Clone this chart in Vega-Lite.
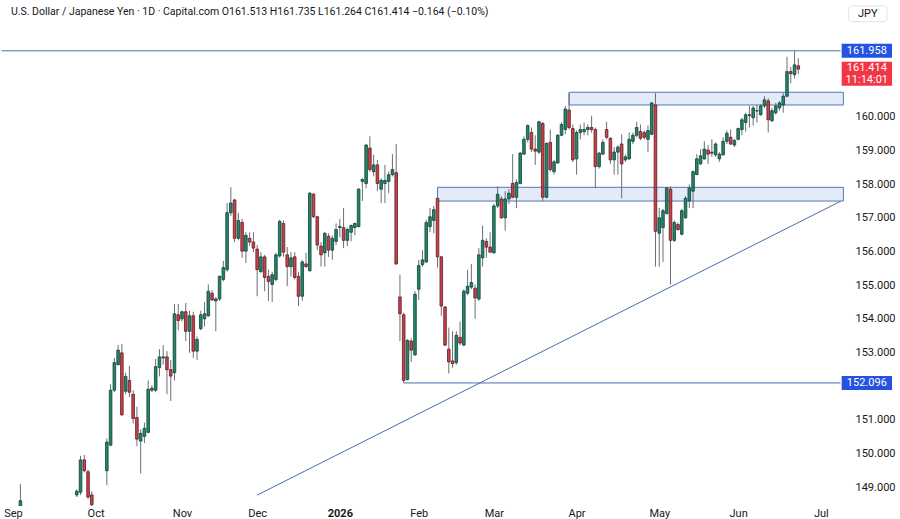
{
  "$schema": "https://vega.github.io/schema/vega-lite/v6.json",
  "width": 900,
  "height": 506,
  "autosize": {"type": "none"},
  "padding": {"left": 0, "top": 0, "right": 0, "bottom": 13},
  "background": "white",
  "config": {
    "view": {"stroke": null},
    "font": "Roboto",
    "axis": {"domain": false, "ticks": false, "grid": false, "labelColor": "#131722", "labelFontSize": 11, "labelFont": "Roboto", "title": null}
  },
  "datasets": {
    "candles": [
      {"t":2,"o":148.4,"h":149.1,"l":147.9,"c":148.6},
      {"t":17,"o":148.77,"h":148.94,"l":148.71,"c":148.88},
      {"t":18,"o":148.85,"h":149.93,"l":148.77,"c":149.81},
      {"t":19,"o":149.81,"h":149.96,"l":149.44,"c":149.49},
      {"t":20,"o":149.46,"h":149.52,"l":148.65,"c":148.71},
      {"t":21,"o":148.77,"h":148.88,"l":148.33,"c":148.48},
      {"t":25,"o":149.49,"h":150.45,"l":149.06,"c":150.34},
      {"t":26,"o":150.25,"h":152.06,"l":150.22,"c":151.88},
      {"t":27,"o":151.88,"h":152.84,"l":151.82,"c":152.70},
      {"t":28,"o":152.64,"h":153.22,"l":152.61,"c":153.07},
      {"t":29,"o":152.99,"h":153.25,"l":151.12,"c":151.15},
      {"t":30,"o":151.85,"h":152.40,"l":151.76,"c":152.29},
      {"t":31,"o":152.17,"h":152.61,"l":151.68,"c":151.82},
      {"t":32,"o":151.76,"h":151.88,"l":150.89,"c":151.04},
      {"t":33,"o":151.07,"h":151.39,"l":150.22,"c":150.43},
      {"t":34,"o":150.37,"h":150.72,"l":149.41,"c":150.60},
      {"t":35,"o":150.51,"h":150.92,"l":150.31,"c":150.75},
      {"t":36,"o":150.63,"h":152.17,"l":150.60,"c":151.91},
      {"t":37,"o":151.88,"h":152.03,"l":151.82,"c":151.94},
      {"t":38,"o":151.88,"h":152.81,"l":151.82,"c":152.58},
      {"t":39,"o":152.55,"h":153.10,"l":152.29,"c":152.87},
      {"t":40,"o":152.84,"h":153.22,"l":152.64,"c":152.87},
      {"t":41,"o":152.87,"h":153.04,"l":151.76,"c":152.49},
      {"t":42,"o":152.49,"h":152.78,"l":151.56,"c":152.30},
      {"t":43,"o":152.40,"h":154.44,"l":152.17,"c":154.15},
      {"t":44,"o":154.12,"h":154.44,"l":153.66,"c":153.95},
      {"t":45,"o":154.00,"h":154.24,"l":153.92,"c":154.21},
      {"t":46,"o":154.21,"h":154.47,"l":153.34,"c":153.63},
      {"t":47,"o":153.63,"h":154.24,"l":152.99,"c":154.09},
      {"t":48,"o":154.09,"h":154.21,"l":152.84,"c":153.04},
      {"t":49,"o":153.04,"h":153.48,"l":152.78,"c":153.39},
      {"t":50,"o":153.71,"h":154.24,"l":153.66,"c":154.12},
      {"t":51,"o":154.00,"h":154.50,"l":153.77,"c":154.15},
      {"t":52,"o":154.09,"h":155.02,"l":154.06,"c":154.82},
      {"t":53,"o":154.76,"h":154.85,"l":154.53,"c":154.56},
      {"t":54,"o":154.53,"h":154.65,"l":153.63,"c":154.59},
      {"t":55,"o":154.59,"h":155.29,"l":154.53,"c":155.26},
      {"t":56,"o":155.17,"h":155.72,"l":155.11,"c":155.52},
      {"t":57,"o":155.46,"h":157.44,"l":155.40,"c":157.15},
      {"t":58,"o":157.15,"h":157.91,"l":157.06,"c":157.44},
      {"t":59,"o":157.53,"h":157.56,"l":156.28,"c":156.39},
      {"t":60,"o":156.39,"h":157.15,"l":156.33,"c":156.92},
      {"t":61,"o":156.86,"h":156.97,"l":155.81,"c":156.01},
      {"t":62,"o":156.01,"h":156.57,"l":155.66,"c":156.48},
      {"t":63,"o":156.39,"h":156.57,"l":156.16,"c":156.28},
      {"t":64,"o":156.28,"h":156.57,"l":155.98,"c":156.10},
      {"t":65,"o":156.07,"h":156.19,"l":154.67,"c":155.46},
      {"t":66,"o":155.40,"h":155.98,"l":155.37,"c":155.84},
      {"t":67,"o":155.84,"h":155.90,"l":154.82,"c":155.23},
      {"t":68,"o":155.26,"h":155.46,"l":154.53,"c":155.11},
      {"t":69,"o":155.02,"h":155.40,"l":154.50,"c":155.31},
      {"t":70,"o":155.17,"h":155.96,"l":155.11,"c":155.90},
      {"t":71,"o":155.87,"h":156.94,"l":155.81,"c":156.89},
      {"t":72,"o":156.83,"h":156.92,"l":155.84,"c":155.98},
      {"t":73,"o":155.90,"h":156.13,"l":154.97,"c":155.55},
      {"t":74,"o":155.55,"h":155.98,"l":155.26,"c":155.81},
      {"t":75,"o":155.84,"h":155.98,"l":155.17,"c":155.23},
      {"t":76,"o":155.26,"h":155.40,"l":154.38,"c":154.67},
      {"t":77,"o":154.67,"h":155.75,"l":154.53,"c":155.69},
      {"t":78,"o":155.63,"h":155.96,"l":155.52,"c":155.55},
      {"t":79,"o":155.43,"h":157.76,"l":155.40,"c":157.73},
      {"t":80,"o":157.70,"h":157.73,"l":157.00,"c":157.03},
      {"t":81,"o":157.03,"h":157.06,"l":156.04,"c":156.19},
      {"t":82,"o":156.16,"h":156.28,"l":155.55,"c":155.90},
      {"t":83,"o":155.96,"h":156.57,"l":155.55,"c":156.54},
      {"t":84,"o":156.45,"h":156.54,"l":155.84,"c":156.04},
      {"t":85,"o":156.04,"h":156.48,"l":155.75,"c":156.39},
      {"t":86,"o":156.30,"h":156.83,"l":156.19,"c":156.65},
      {"t":87,"o":156.71,"h":156.97,"l":156.42,"c":156.74},
      {"t":88,"o":156.71,"h":157.29,"l":156.10,"c":156.33},
      {"t":89,"o":156.33,"h":156.71,"l":156.16,"c":156.65},
      {"t":90,"o":156.57,"h":156.80,"l":156.30,"c":156.77},
      {"t":91,"o":156.71,"h":156.86,"l":156.48,"c":156.83},
      {"t":92,"o":156.74,"h":157.88,"l":156.71,"c":157.85},
      {"t":93,"o":158.08,"h":158.17,"l":157.50,"c":158.14},
      {"t":94,"o":158.02,"h":159.19,"l":157.88,"c":159.16},
      {"t":95,"o":159.07,"h":159.42,"l":158.37,"c":158.43},
      {"t":96,"o":158.37,"h":158.87,"l":158.23,"c":158.57},
      {"t":97,"o":158.57,"h":158.72,"l":157.79,"c":158.02},
      {"t":98,"o":157.85,"h":158.17,"l":157.44,"c":158.11},
      {"t":99,"o":158.02,"h":158.57,"l":157.44,"c":158.11},
      {"t":100,"o":158.08,"h":158.37,"l":157.73,"c":158.28},
      {"t":101,"o":158.28,"h":158.89,"l":158.23,"c":158.43},
      {"t":102,"o":158.34,"h":159.19,"l":155.61,"c":155.63},
      {"t":103,"o":154.65,"h":155.31,"l":153.34,"c":154.15},
      {"t":104,"o":154.12,"h":154.18,"l":152.096,"c":152.17},
      {"t":105,"o":152.20,"h":153.39,"l":152.17,"c":153.36},
      {"t":106,"o":153.34,"h":153.42,"l":152.72,"c":153.07},
      {"t":107,"o":152.93,"h":154.82,"l":152.90,"c":154.73},
      {"t":108,"o":154.88,"h":155.75,"l":154.56,"c":155.58},
      {"t":109,"o":155.61,"h":156.04,"l":155.55,"c":155.75},
      {"t":110,"o":155.69,"h":156.94,"l":155.66,"c":156.86},
      {"t":111,"o":156.74,"h":157.29,"l":156.57,"c":157.03},
      {"t":112,"o":156.92,"h":157.35,"l":156.54,"c":157.24},
      {"t":113,"o":157.58,"h":157.61,"l":155.52,"c":155.84},
      {"t":114,"o":155.84,"h":155.87,"l":154.09,"c":154.38},
      {"t":115,"o":154.35,"h":154.38,"l":153.19,"c":153.22},
      {"t":116,"o":153.10,"h":153.74,"l":152.38,"c":152.72},
      {"t":117,"o":152.75,"h":153.63,"l":152.55,"c":152.67},
      {"t":118,"o":152.70,"h":153.63,"l":152.64,"c":153.51},
      {"t":119,"o":153.45,"h":153.92,"l":153.22,"c":153.28},
      {"t":120,"o":153.22,"h":154.88,"l":153.19,"c":154.82},
      {"t":121,"o":154.76,"h":155.46,"l":154.70,"c":154.97},
      {"t":122,"o":154.94,"h":155.63,"l":154.88,"c":155.08},
      {"t":123,"o":154.91,"h":155.02,"l":154.00,"c":154.62},
      {"t":124,"o":154.59,"h":156.10,"l":154.53,"c":155.90},
      {"t":125,"o":155.81,"h":156.77,"l":155.55,"c":156.33},
      {"t":126,"o":156.30,"h":156.39,"l":155.81,"c":156.13},
      {"t":127,"o":156.13,"h":156.57,"l":155.96,"c":155.98},
      {"t":128,"o":155.96,"h":157.41,"l":155.93,"c":157.35},
      {"t":129,"o":157.35,"h":157.93,"l":157.29,"c":157.70},
      {"t":130,"o":157.56,"h":157.64,"l":156.97,"c":157.00},
      {"t":131,"o":157.00,"h":157.79,"l":156.62,"c":157.56},
      {"t":132,"o":157.56,"h":157.85,"l":157.41,"c":157.73},
      {"t":133,"o":158.02,"h":158.89,"l":157.58,"c":157.61},
      {"t":134,"o":157.61,"h":158.14,"l":157.29,"c":158.05},
      {"t":135,"o":158.02,"h":158.95,"l":157.99,"c":158.92},
      {"t":136,"o":158.89,"h":159.42,"l":158.87,"c":159.33},
      {"t":137,"o":159.33,"h":159.77,"l":159.24,"c":159.74},
      {"t":138,"o":159.53,"h":159.68,"l":158.95,"c":159.04},
      {"t":139,"o":159.04,"h":159.45,"l":158.57,"c":158.98},
      {"t":140,"o":158.95,"h":159.88,"l":158.89,"c":159.85},
      {"t":141,"o":159.80,"h":159.85,"l":157.50,"c":157.61},
      {"t":142,"o":157.61,"h":159.24,"l":157.58,"c":159.21},
      {"t":143,"o":159.24,"h":159.62,"l":158.37,"c":158.43},
      {"t":144,"o":158.37,"h":158.72,"l":158.28,"c":158.66},
      {"t":145,"o":158.63,"h":159.48,"l":158.60,"c":159.45},
      {"t":146,"o":159.45,"h":159.83,"l":159.42,"c":159.77},
      {"t":147,"o":159.62,"h":160.32,"l":159.48,"c":160.23},
      {"t":148,"o":160.20,"h":160.70,"l":159.62,"c":159.68},
      {"t":149,"o":159.65,"h":159.77,"l":158.66,"c":158.72},
      {"t":150,"o":158.75,"h":159.59,"l":158.28,"c":159.53},
      {"t":151,"o":159.53,"h":159.77,"l":159.33,"c":159.62},
      {"t":152,"o":159.56,"h":159.83,"l":159.45,"c":159.62},
      {"t":153,"o":159.62,"h":159.77,"l":159.45,"c":159.68},
      {"t":154,"o":159.68,"h":160.03,"l":159.53,"c":159.62},
      {"t":155,"o":159.62,"h":159.68,"l":157.88,"c":158.52},
      {"t":156,"o":158.52,"h":158.95,"l":158.46,"c":158.92},
      {"t":157,"o":158.89,"h":159.33,"l":158.87,"c":159.24},
      {"t":158,"o":159.62,"h":159.85,"l":159.33,"c":159.39},
      {"t":159,"o":159.36,"h":159.39,"l":158.60,"c":158.72},
      {"t":160,"o":158.72,"h":159.10,"l":158.28,"c":158.95},
      {"t":161,"o":158.95,"h":159.16,"l":158.28,"c":159.10},
      {"t":162,"o":159.19,"h":159.48,"l":157.58,"c":158.60},
      {"t":163,"o":158.72,"h":158.87,"l":158.66,"c":158.81},
      {"t":164,"o":158.75,"h":159.53,"l":158.72,"c":159.33},
      {"t":165,"o":159.27,"h":159.53,"l":159.19,"c":159.45},
      {"t":166,"o":159.45,"h":159.85,"l":159.39,"c":159.68},
      {"t":167,"o":159.56,"h":159.77,"l":159.30,"c":159.36},
      {"t":168,"o":159.53,"h":159.59,"l":159.33,"c":159.39},
      {"t":169,"o":159.33,"h":159.74,"l":158.95,"c":159.59},
      {"t":170,"o":159.48,"h":160.44,"l":159.45,"c":160.41},
      {"t":171,"o":160.35,"h":160.70,"l":155.55,"c":156.60},
      {"t":172,"o":156.54,"h":157.29,"l":155.55,"c":157.00},
      {"t":173,"o":156.71,"h":157.26,"l":155.69,"c":157.21},
      {"t":174,"o":157.12,"h":157.91,"l":157.12,"c":157.88},
      {"t":175,"o":157.85,"h":157.93,"l":155.02,"c":156.33},
      {"t":176,"o":156.33,"h":156.92,"l":156.28,"c":156.86},
      {"t":177,"o":156.80,"h":156.86,"l":156.62,"c":156.65},
      {"t":178,"o":156.51,"h":157.26,"l":156.48,"c":157.21},
      {"t":179,"o":157.00,"h":157.64,"l":156.97,"c":157.58},
      {"t":180,"o":157.50,"h":157.99,"l":157.29,"c":157.88},
      {"t":181,"o":157.79,"h":158.40,"l":157.29,"c":158.37},
      {"t":182,"o":158.28,"h":158.89,"l":158.28,"c":158.75},
      {"t":183,"o":158.60,"h":159.04,"l":158.57,"c":158.84},
      {"t":184,"o":158.75,"h":159.27,"l":158.72,"c":159.04},
      {"t":185,"o":159.01,"h":159.16,"l":158.60,"c":158.89},
      {"t":186,"o":158.95,"h":159.33,"l":158.81,"c":158.92},
      {"t":187,"o":158.87,"h":159.24,"l":158.81,"c":159.19},
      {"t":188,"o":158.75,"h":158.95,"l":158.66,"c":158.89},
      {"t":189,"o":158.87,"h":159.39,"l":158.84,"c":159.27},
      {"t":190,"o":159.27,"h":159.59,"l":159.19,"c":159.51},
      {"t":191,"o":159.39,"h":159.62,"l":159.16,"c":159.19},
      {"t":192,"o":159.16,"h":159.33,"l":159.10,"c":159.30},
      {"t":193,"o":159.33,"h":159.68,"l":159.30,"c":159.65},
      {"t":194,"o":159.62,"h":159.97,"l":159.45,"c":159.91},
      {"t":195,"o":159.83,"h":160.12,"l":159.56,"c":160.06},
      {"t":196,"o":160.06,"h":160.32,"l":159.68,"c":160.03},
      {"t":197,"o":159.97,"h":160.32,"l":159.74,"c":160.26},
      {"t":198,"o":160.17,"h":160.35,"l":159.83,"c":160.18},
      {"t":199,"o":160.06,"h":160.38,"l":160.03,"c":160.32},
      {"t":200,"o":160.32,"h":160.61,"l":160.26,"c":160.50},
      {"t":201,"o":160.47,"h":160.55,"l":159.53,"c":159.91},
      {"t":202,"o":159.88,"h":160.26,"l":159.85,"c":160.18},
      {"t":203,"o":160.12,"h":160.41,"l":160.06,"c":160.32},
      {"t":204,"o":160.26,"h":160.47,"l":160.18,"c":160.41},
      {"t":205,"o":160.35,"h":160.70,"l":160.12,"c":160.61},
      {"t":206,"o":160.61,"h":161.78,"l":160.58,"c":161.34},
      {"t":207,"o":161.34,"h":161.48,"l":160.99,"c":161.28},
      {"t":208,"o":161.25,"h":161.958,"l":161.14,"c":161.54},
      {"t":209,"o":161.513,"h":161.735,"l":161.264,"c":161.414}
    ],
    "zones": [
      {"t0":148,"t1":221.0,"lo":160.349,"hi":160.727},
      {"t0":113,"t1":221.0,"lo":157.497,"hi":157.905}
    ],
    "levels": [
      {"t0":-3,"t1":220.26,"p":161.958},
      {"t0":104,"t1":220.26,"p":152.096}
    ],
    "trend": [
      {"t":65,"p":148.766},
      {"t":220.26,"p":157.491}
    ],
    "bluetags": [
      {"p":161.958,"lab":"161.958"},
      {"p":152.096,"lab":"152.096"}
    ],
    "lasttag": [
      {"p":161.414,"lab":["161.414","11:14:01"]}
    ],
    "header": [
      {"lab":"U.S. Dollar / Japanese Yen · 1D · Capital.com O161.513 H161.735 L161.264 C161.414 −0.164 (−0.10%)"}
    ],
    "cur": [
      {"lab":"JPY"}
    ]
  },
  "layer": [
    {
      "data": {"name": "zones"},
      "mark": {"type": "rect", "fill": "#e3eaf8", "stroke": "#5574b3", "strokeWidth": 1, "clip": true},
      "encoding": {
        "x": {"field": "t0", "type": "quantitative", "scale": {"domain": [-2.1, 234.74], "nice": false, "zero": false}, "axis": {"orient": "bottom", "values": [0,22,45,65,87,108,128,150,172,193,215], "labelExpr": "['Sep','Oct','Nov','Dec','2026','Feb','Mar','Apr','May','Jun','Jul'][indexof([0,22,45,65,87,108,128,150,172,193,215], datum.value)]", "labelFontWeight": {"condition": {"test": "datum.value == 87", "value": "bold"}, "value": "normal"}, "labelAlign": "center", "labelBaseline": "top", "labelPadding": 1, "labelOverlap": false, "labelFlush": false}},
        "x2": {"field": "t1"},
        "y": {"field": "lo", "type": "quantitative", "scale": {"domain": [148.591, 163.318], "nice": false, "zero": false}, "axis": {"orient": "right", "offset": -45, "values": [149,150,151,153,154,155,156,157,158,159,160], "format": ".3f", "labelPadding": 0, "labelAlign": "left"}},
        "y2": {"field": "hi"}
      }
    },
    {
      "data": {"name": "levels"},
      "mark": {"type": "rule", "color": "#4a6cb0", "strokeWidth": 1, "clip": true},
      "encoding": {
        "x": {"field": "t0", "type": "quantitative"},
        "x2": {"field": "t1"},
        "y": {"field": "p", "type": "quantitative"}
      }
    },
    {
      "data": {"name": "trend"},
      "mark": {"type": "line", "color": "#4a6cb0", "strokeWidth": 1, "clip": true},
      "encoding": {
        "x": {"field": "t", "type": "quantitative"},
        "y": {"field": "p", "type": "quantitative"}
      }
    },
    {
      "data": {"name": "candles"},
      "mark": {"type": "rule", "color": "#6b6e78", "strokeWidth": 1, "clip": true},
      "encoding": {
        "x": {"field": "t", "type": "quantitative"},
        "y": {"field": "l", "type": "quantitative"},
        "y2": {"field": "h"}
      }
    },
    {
      "data": {"name": "candles"},
      "mark": {"type": "bar", "size": 2.6, "strokeWidth": 0.8, "clip": true},
      "encoding": {
        "x": {"field": "t", "type": "quantitative"},
        "y": {"field": "o", "type": "quantitative"},
        "y2": {"field": "c"},
        "fill": {"condition": {"test": "datum.c >= datum.o", "value": "#21876b"}, "value": "#c8434c"},
        "stroke": {"condition": {"test": "datum.c >= datum.o", "value": "#123f33"}, "value": "#5e1b20"}
      }
    },
    {
      "data": {"name": "bluetags"},
      "mark": {"type": "bar", "size": 14, "color": "#2453e0"},
      "encoding": {
        "x": {"datum": 220.55, "type": "quantitative"},
        "x2": {"datum": 233.95},
        "y": {"field": "p", "type": "quantitative"}
      }
    },
    {
      "data": {"name": "bluetags"},
      "mark": {"type": "text", "color": "white", "fontSize": 11, "font": "Roboto", "align": "center", "baseline": "middle"},
      "encoding": {
        "x": {"datum": 227.24, "type": "quantitative"},
        "y": {"field": "p", "type": "quantitative"},
        "text": {"field": "lab"}
      }
    },
    {
      "data": {"name": "lasttag"},
      "mark": {"type": "bar", "size": 24, "color": "#f23645", "yOffset": 4.6},
      "encoding": {
        "x": {"datum": 220.55, "type": "quantitative"},
        "x2": {"datum": 233.95},
        "y": {"field": "p", "type": "quantitative"}
      }
    },
    {
      "data": {"name": "lasttag"},
      "mark": {"type": "text", "color": "white", "fontSize": 11, "font": "Roboto", "align": "center", "baseline": "middle", "lineHeight": 12, "yOffset": -1.2},
      "encoding": {
        "x": {"datum": 227.24, "type": "quantitative"},
        "y": {"field": "p", "type": "quantitative"},
        "text": {"field": "lab"}
      }
    },
    {
      "data": {"name": "header"},
      "mark": {"type": "text", "color": "#131722", "fontSize": 10.5, "font": "Roboto", "align": "left", "baseline": "middle"},
      "encoding": {
        "x": {"datum": -0.52, "type": "quantitative"},
        "y": {"datum": 163.114, "type": "quantitative"},
        "text": {"field": "lab"}
      }
    },
    {
      "data": {"name": "cur"},
      "mark": {"type": "rect", "fill": "white", "stroke": "#e0e3eb", "strokeWidth": 1, "cornerRadius": 3},
      "encoding": {
        "x": {"datum": 222.4, "type": "quantitative"},
        "x2": {"datum": 232.6},
        "y": {"datum": 163.289, "type": "quantitative"},
        "y2": {"datum": 162.823}
      }
    },
    {
      "data": {"name": "cur"},
      "mark": {"type": "text", "color": "#131722", "fontSize": 11, "font": "Roboto", "align": "center", "baseline": "middle"},
      "encoding": {
        "x": {"datum": 227.5, "type": "quantitative"},
        "y": {"datum": 163.056, "type": "quantitative"},
        "text": {"field": "lab"}
      }
    }
  ]
}
